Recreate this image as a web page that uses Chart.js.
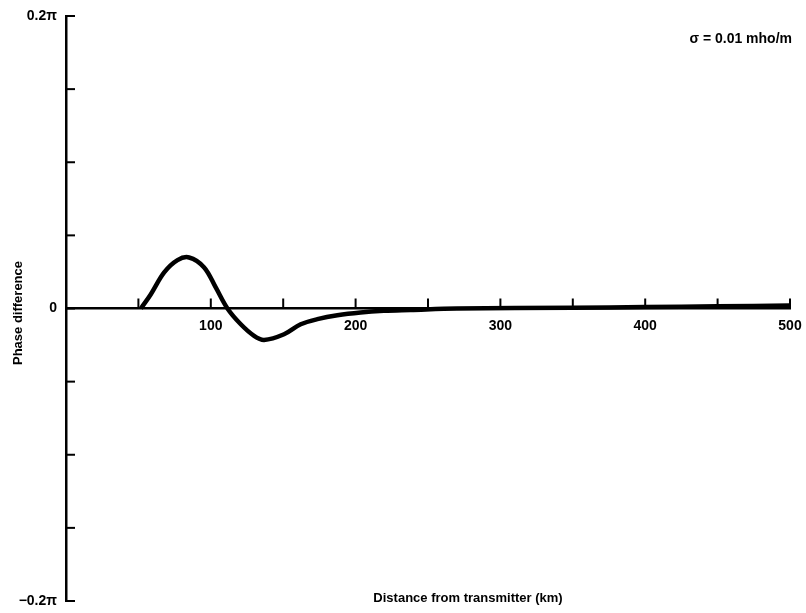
<!DOCTYPE html>
<html lang="en">
<head>
    <meta charset="UTF-8">
    <title>Phase difference vs distance</title>
    <script src="https://cdn.jsdelivr.net/npm/chart.js"></script>
    <style>
        body { margin: 0; background: #fff; }
        #wrap { width: 806px; height: 613px; }
    </style>
</head>
<body>
    <div id="wrap">
        <canvas id="phase-chart" width="806" height="613"></canvas>
    </div>

    <script>
        // distance from transmitter (km)
        const distances = [51.7, 58.6, 67.8, 77, 85, 95.4, 103.4, 111.5, 120.7, 129.9, 136.8,
                           150.6, 162.1, 173.6, 187.4, 203.4, 219.5, 237.9, 270, 350, 400, 450, 500];
        // phase difference, in units of pi
        const phaseDiff = [0, 0.0098, 0.0247, 0.0331, 0.0349, 0.0281, 0.0144, 0, -0.0108, -0.0187, -0.0215,
                           -0.0176, -0.0108, -0.0073, -0.0046, -0.0027, -0.0016, -0.001, 0, 0.0005, 0.001, 0.0015, 0.002];
        const xTickMarks = [50, 100, 150, 200, 250, 300, 350, 400, 450, 500];
        const yTickMarks = [-0.2, -0.15, -0.1, -0.05, 0, 0.05, 0.1, 0.15, 0.2];
        const yTickLabels = { "0.2": "0.2π", "0": "0", "-0.2": "\u22120.2π" };
        const xTitle = "Distance from transmitter (km)";
        const yTitle = "Phase difference";
        const note = "σ = 0.01 mho/m";

        const points = distances.map((d, i) => ({ x: d, y: phaseDiff[i] }));
        const FONT = "'Liberation Sans', Arial, sans-serif";

        // small inward tick marks + free text, placed with the chart's own scales
        const decorations = {
            id: "decorations",
            afterDraw(chart) {
                const { ctx, scales: { x, y } } = chart;
                const y0 = y.getPixelForValue(0);
                const xAxis = x.getPixelForValue(0);
                ctx.save();
                ctx.strokeStyle = "#000";
                ctx.lineWidth = 2;
                xTickMarks.forEach(v => {
                    const px = x.getPixelForValue(v);
                    ctx.beginPath();
                    ctx.moveTo(px, y0);
                    ctx.lineTo(px, y0 - 10);
                    ctx.stroke();
                });
                yTickMarks.forEach(v => {
                    const py = y.getPixelForValue(v);
                    ctx.beginPath();
                    ctx.moveTo(xAxis, py);
                    ctx.lineTo(xAxis + 9, py);
                    ctx.stroke();
                });

                ctx.fillStyle = "#000";
                ctx.font = "bold 14px " + FONT;
                ctx.textAlign = "right";
                ctx.textBaseline = "middle";
                ctx.fillText(note, x.getPixelForValue(500) + 2, 39);

                ctx.font = "bold 13px " + FONT;
                ctx.textAlign = "center";
                ctx.fillText(xTitle, 468, 598);

                ctx.translate(18, 313);
                ctx.rotate(-Math.PI / 2);
                ctx.fillText(yTitle, 0, 0);
                ctx.restore();
            }
        };

        new Chart(document.getElementById("phase-chart").getContext("2d"), {
            type: "line",
            data: {
                datasets: [{
                    data: points,
                    borderColor: "#000",
                    borderWidth: 4.5,
                    pointRadius: 0,
                    fill: false,
                    tension: 0.35
                }]
            },
            options: {
                responsive: false,
                animation: false,
                layout: { padding: { top: 16, right: 16, bottom: 12, left: 0 } },
                plugins: { legend: { display: false }, tooltip: { enabled: false } },
                scales: {
                    x: {
                        type: "linear",
                        min: 0,
                        max: 500,
                        position: { y: 0 },
                        grid: { display: false, drawTicks: false },
                        border: { display: true, color: "#000", width: 2.5 },
                        afterFit: scale => {
                            scale.height = 0;
                            scale.paddingLeft = 0;
                            scale.paddingRight = 0;
                        },
                        ticks: {
                            stepSize: 50,
                            color: "#000",
                            padding: 9,
                            maxRotation: 0,
                            font: { family: FONT, size: 14, weight: "bold" },
                            callback: v => (v > 0 && v % 100 === 0) ? String(v) : ""
                        }
                    },
                    y: {
                        type: "linear",
                        min: -0.2,
                        max: 0.2,
                        grid: { display: false, drawTicks: false },
                        border: { display: true, color: "#000", width: 2.5 },
                        afterFit: scale => {
                            scale.width = 66;
                            scale.paddingTop = 0;
                            scale.paddingBottom = 0;
                        },
                        ticks: {
                            stepSize: 0.05,
                            color: "#000",
                            padding: 9,
                            font: { family: FONT, size: 14, weight: "bold" },
                            callback: v => {
                                const key = String(Math.round(v * 100) / 100);
                                return yTickLabels[key] !== undefined ? yTickLabels[key] : "";
                            }
                        }
                    }
                }
            },
            plugins: [decorations]
        });
    </script>
</body>
</html>
